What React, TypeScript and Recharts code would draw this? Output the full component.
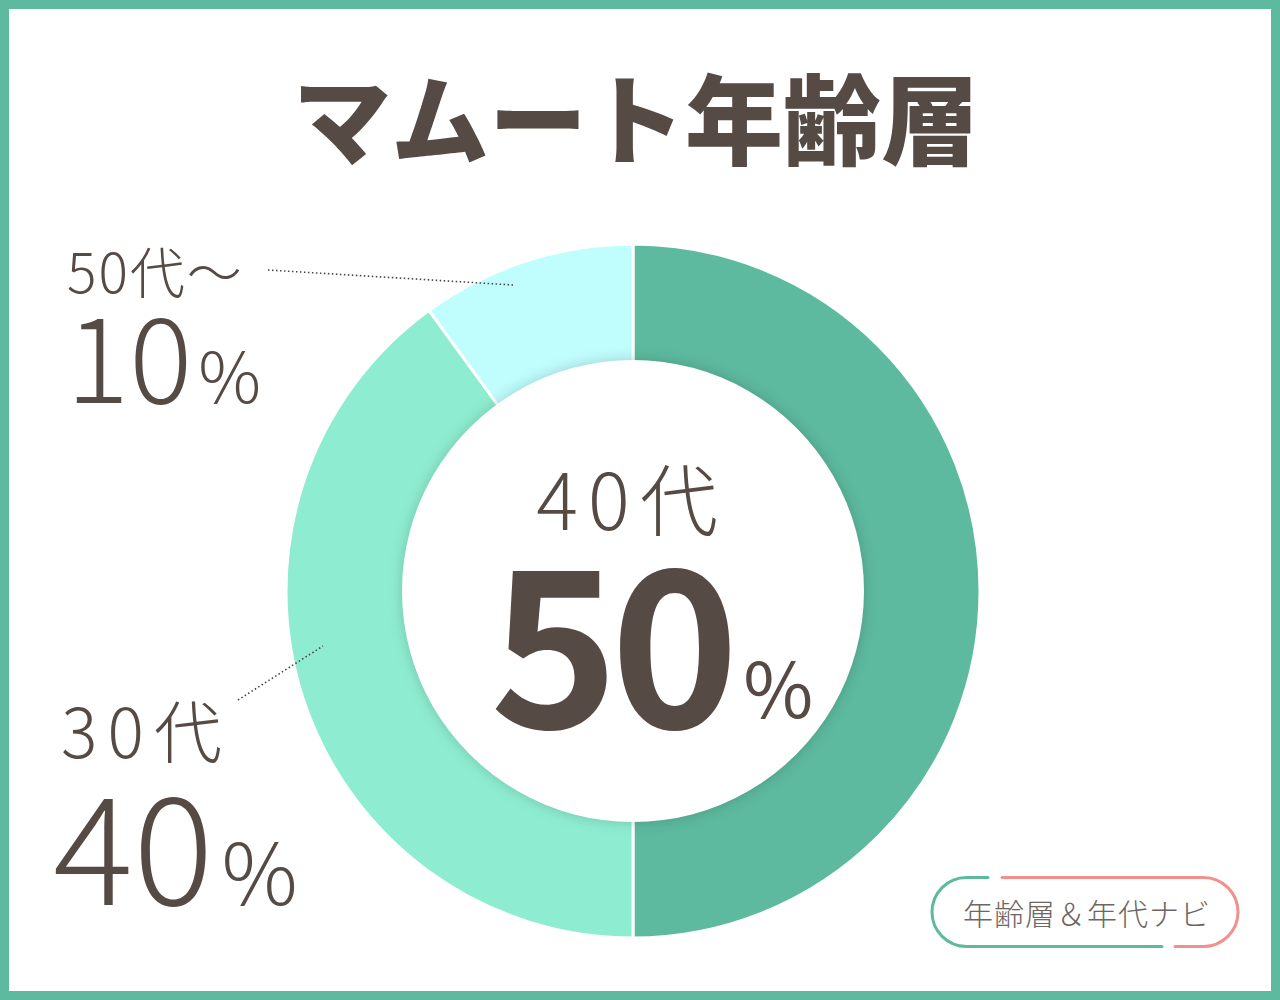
import { PieChart, Pie, Cell } from "recharts";

const AGE_LABELS = ["40代", "30代", "50代〜"];
const AGE_SHARES = [50, 40, 10];
const SLICE_COLORS = ["#5dba9e", "#8eedd0", "#c0fdfd"];

const TEXT = "#564a45";
const FONT = "'Noto Sans CJK JP', 'Noto Sans', sans-serif";

const data = AGE_LABELS.map((name, i) => ({ name, value: AGE_SHARES[i] }));

export default function App() {
  return (
    <div style={{ position: "absolute", left: 0, top: 0, width: 1280, height: 1000, background: "#fff", fontFamily: FONT }}>
      <div style={{ position: "absolute", left: 0, top: 0 }}>
        <PieChart width={1280} height={1000} margin={{ top: 0, right: 0, bottom: 0, left: 0 }}>
          <Pie
            data={data}
            dataKey="value"
            nameKey="name"
            cx={633}
            cy={591}
            outerRadius={347}
            innerRadius={0}
            startAngle={90}
            endAngle={-270}
            stroke="#fff"
            strokeWidth={3}
            isAnimationActive={false}
          >
            {data.map((_, i) => (
              <Cell key={i} fill={SLICE_COLORS[i]} />
            ))}
          </Pie>
          {/* white hole with soft shadow */}
          <Pie
            data={[{ name: "hole", value: 1 }]}
            dataKey="value"
            cx={633}
            cy={591}
            outerRadius={231}
            startAngle={90}
            endAngle={-270}
            stroke="none"
            isAnimationActive={false}
          >
            <Cell fill="#fff" style={{ filter: "drop-shadow(0 0 7px rgba(0,0,0,0.18))" }} />
          </Pie>
        </PieChart>
      </div>

      <svg width={1280} height={1000} style={{ position: "absolute", left: 0, top: 0 }}>
        <text x={636} y={157} textAnchor="middle" fontSize={98} fontWeight={900} fill={TEXT} fontFamily={FONT}>
          マムート年齢層
        </text>

        {/* 50代〜 */}
        <line x1={268} y1={270} x2={513} y2={285} stroke="#444" strokeWidth={1.6} strokeDasharray="1.5 2.5" />
        <text x={67} y={293} fontSize={55} fontWeight={300} fill={TEXT} fontFamily={FONT} letterSpacing={2}>
          {AGE_LABELS[2]}
        </text>
        <text x={66} y={403} fontWeight={300} fill={TEXT} fontFamily={FONT}>
          <tspan fontSize={118}>{AGE_SHARES[2]}</tspan>
          <tspan fontSize={70} dx={6}>%</tspan>
        </text>

        {/* 30代 */}
        <line x1={238} y1={700} x2={323} y2={646} stroke="#444" strokeWidth={1.6} strokeDasharray="1.5 2.5" />
        <text x={61} y={758} fontSize={68} fontWeight={300} fill={TEXT} fontFamily={FONT} letterSpacing={10}>
          {AGE_LABELS[1]}
        </text>
        <text x={53} y={905} fontWeight={300} fill={TEXT} fontFamily={FONT}>
          <tspan fontSize={150}>{AGE_SHARES[1]}</tspan>
          <tspan fontSize={85} dx={8}>%</tspan>
        </text>

        {/* center 40代 */}
        <text x={632} y={530} textAnchor="middle" fontSize={78} fontWeight={300} fill={TEXT} fontFamily={FONT} letterSpacing={10}>
          {AGE_LABELS[0]}
        </text>
        <text x={490} y={728} fill={TEXT} fontFamily={FONT}>
          <tspan fontSize={218} fontWeight={700} letterSpacing={-8}>{AGE_SHARES[0]}</tspan>
          <tspan fontSize={76} fontWeight={400} dx={12} dy={-10}>%</tspan>
        </text>

        {/* badge */}
        <path d="M 988 877.5 L 966.5 877.5 A 34.5 34.5 0 0 0 966.5 946.5 L 1162 946.5" fill="none" stroke="#5dba9e" strokeWidth={3} strokeLinecap="round" />
        <path d="M 1002 877.5 L 1203.5 877.5 A 34.5 34.5 0 0 1 1203.5 946.5 L 1175 946.5" fill="none" stroke="#f0918c" strokeWidth={3} strokeLinecap="round" />
        <text x={1087} y={925} textAnchor="middle" fontSize={30} fontWeight={300} fill="#6f6562" fontFamily={FONT} letterSpacing={1}>
          年齢層＆年代ナビ
        </text>
      </svg>

      <div style={{ position: "absolute", left: 0, top: 0, width: 1280, height: 1000, boxSizing: "border-box", border: "9px solid #5dba9e", pointerEvents: "none" }} />
    </div>
  );
}
